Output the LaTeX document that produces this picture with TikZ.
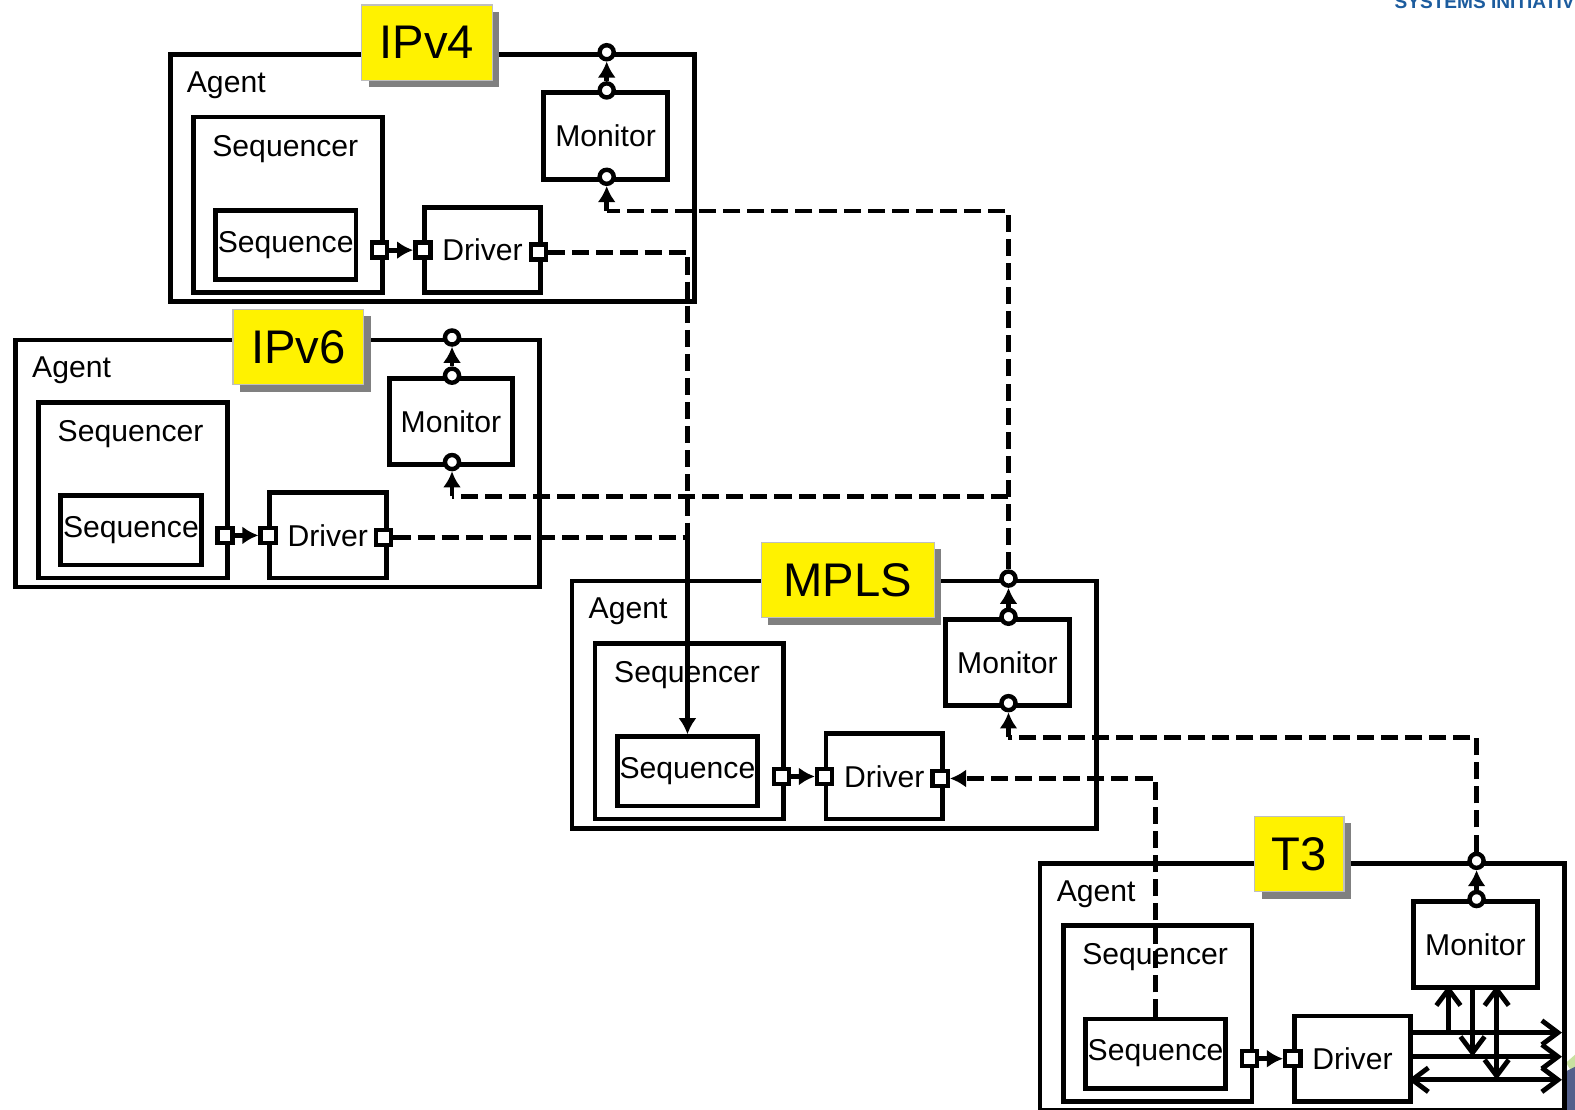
\documentclass[tikz,border=0pt]{standalone}
\usepackage{fontspec}
\setmainfont{Liberation Sans}
\usetikzlibrary{arrows.meta,shadows}
\definecolor{sysblue}{RGB}{28,92,158}
\definecolor{logoblue}{RGB}{84,96,140}
\definecolor{logogreen}{RGB}{200,225,160}

\begin{document}
\begin{tikzpicture}[x=0.5pt,y=-0.5pt, font=\fontsize{15}{18}\selectfont,
  box/.style={draw, line width=2.4pt, inner sep=0pt, anchor=north west},
  sqport/.style={draw, line width=2.2pt, fill=white, minimum size=7.5pt, inner sep=0pt},
  cport/.style={circle, draw, line width=2.2pt, fill=white, minimum size=7pt, inner sep=0pt},
  link/.style={line width=2.4pt},
  dline/.style={line width=2.4pt, dash pattern=on 8.5pt off 3.5pt},
  tag/.style={fill=yellow, draw=gray!50, line width=0.6pt, font=\fontsize{23.5}{28}\selectfont,
    minimum height=37.5pt, inner sep=0pt,
    drop shadow={shadow xshift=3.5pt, shadow yshift=-3.5pt, fill=gray, opacity=1}},
  tip/.style={-{Latex[length=8pt,width=9pt]}},
  barb/.style={-{Straight Barb[length=8pt,width=12pt]}},
  dbarb/.style={{Straight Barb[length=8pt,width=12pt]}-{Straight Barb[length=8pt,width=12pt]}}]

\useasboundingbox (0,0) rectangle (1568,1105);

\node[anchor=base west, inner sep=0pt, text=sysblue, font=\bfseries\fontsize{9.5}{11}\selectfont] (hdr) at (1388,8) {SYSTEMS INITIATIVE};
\fill[logogreen] (1559,1058) -- (1568,1050) -- (1568,1072) -- cycle;
\fill[logoblue] (1556,1068) -- (1568,1062) -- (1568,1105) -- (1557,1105) -- cycle;

\foreach \n/\x/\y in {a/167/52,b/13/336,c/567/576,d/1033/857}{
\begin{scope}[shift={(\x,\y)}]
\node[box, minimum width=261pt, minimum height=123pt] (\n-agt) at (0,0) {};
\node[anchor=west] (\n-albl) at (12,33) {Agent};
\node[box, minimum width=94pt, minimum height=87.5pt] (\n-sqr) at (23,62) {};
\node (\n-sqrlbl) at (117,96) {Sequencer};
\node[box, minimum width=70pt, minimum height=34.5pt] (\n-seq) at (45,155) {Sequence};
\node[box, minimum width=58pt, minimum height=42.5pt] (\n-drv) at (253,152) {Driver};
\node[box, minimum width=61.5pt, minimum height=43pt] (\n-mon) at (372,38) {Monitor};
\node[sqport] (\n-sout) at (211,197) {};
\node[sqport] (\n-din) at (254,197) {};
\draw[link,tip] (\n-sout) -- (\n-din);
\node[cport] (\n-mout) at (437,38) {};
\node[cport] (\n-aout) at (437,0) {};
\draw[link,tip] (\n-mout) -- (\n-aout);
\coordinate (\n-mtap) at (437,158);
\end{scope}
}

\foreach \n/\x/\y in {a/167/52,b/13/336,c/567/576}{
\begin{scope}[shift={(\x,\y)}]
\node[sqport] (\n-dout) at (369,199) {};
\node[cport] (\n-min) at (437,124) {};
\end{scope}
}

\foreach \n/\t/\x/\y/\w in {a/IPv4/425/42.5/65,b/IPv6/297/345.5/65,c/MPLS/844/577.5/86,d/T3/1293.5/850/44.5}
\node[tag, minimum width=\w pt] (\n-tag) at (\x,\y) {\t};

\begin{scope}[shift={(1033,857)}]
\foreach \i/\yy in {1/171,2/195,3/218}{
\coordinate (d-w\i) at (369,\yy);
\coordinate (d-e\i) at (522,\yy);
}
\foreach \i/\xx in {1/409,2/433,3/457}
\coordinate (d-m\i) at (\xx,124);
\end{scope}

\draw[link,barb] (d-w1) -- (d-e1);
\draw[link,barb] (d-w2) -- (d-e2);
\draw[link,dbarb] (d-w3) -- (d-e3);
\draw[link,barb] (d-m1 |- d-w1) -- (d-m1);
\draw[link,barb] (d-m2) -- (d-m2 |- d-w2);
\draw[link,dbarb] (d-m3) -- (d-m3 |- d-w3);

\coordinate (jd) at (c-seq.north |- b-dout);
\draw[dline] (a-dout) -| (jd);
\draw[dline] (b-dout) -- (jd);
\draw[link,tip] (jd) -- (c-seq);

\draw[dline] (c-aout) |- (a-mtap);
\draw[link,tip] (a-mtap) -- (a-min);
\coordinate (jm) at (c-aout |- b-mtap);
\draw[dline] (jm) -- (b-mtap);
\draw[link,tip] (b-mtap) -- (b-min);
\draw[dline] (d-aout) |- (c-mtap);
\draw[link,tip] (c-mtap) -- (c-min);
\draw[dline,tip] (d-seq.north) |- (c-dout);

\end{tikzpicture}
\end{document}
